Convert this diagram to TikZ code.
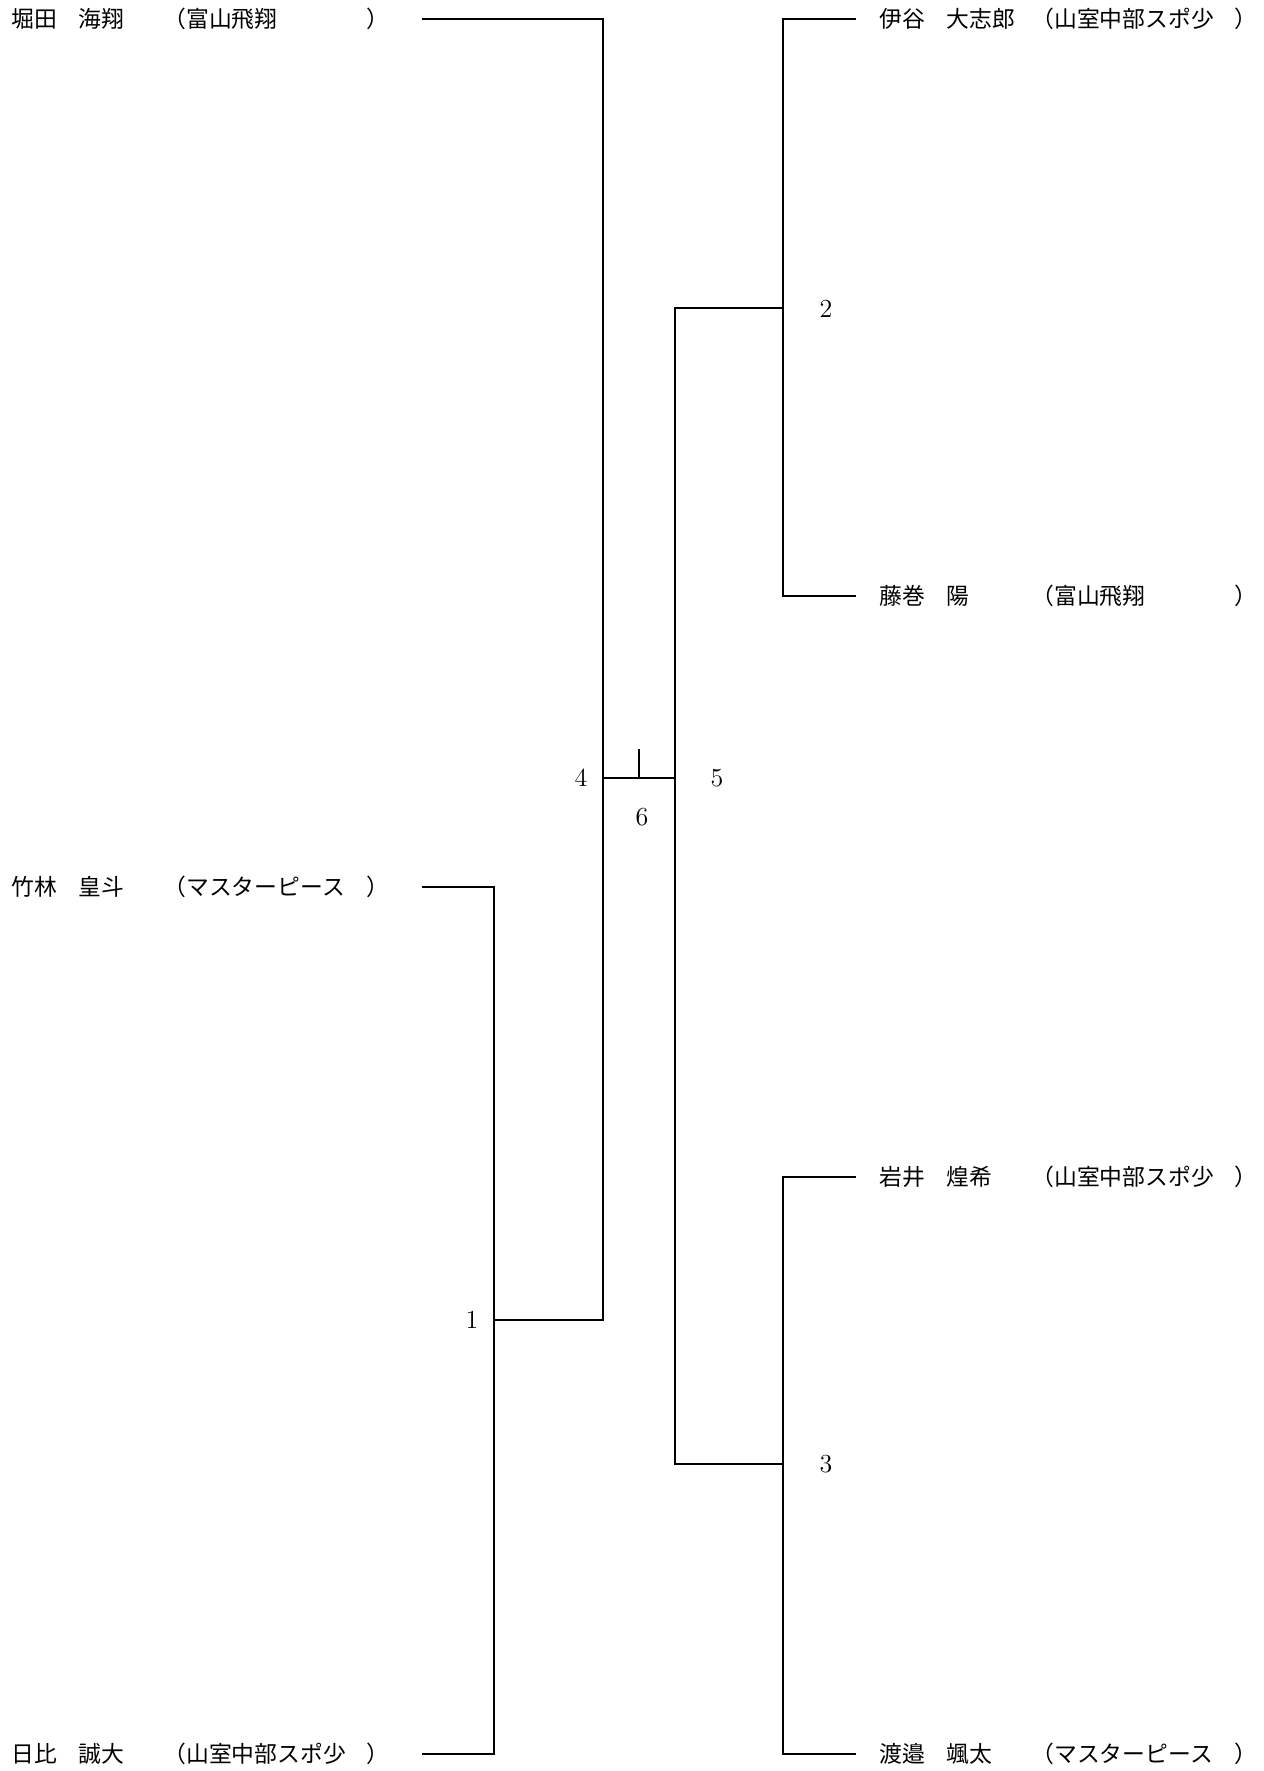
\documentclass[tikz,border=0pt]{standalone}
\usepackage{fontspec}
\newfontfamily\jpfont{Noto Sans CJK JP}
\usepackage{tikz}
\usetikzlibrary{positioning}
% surname, given name, (club)
\newcommand{\entrytext}[3]{\makebox[33.5pt][l]{#1}\makebox[42.5pt][l]{#2}\makebox[101.5pt][l]{（#3}）}

\begin{document}
\begin{tikzpicture}[x = 0.5pt, y = -0.5pt, line width = 0.55pt,
player/.style={ anchor = west, inner sep = 0pt, font = \jpfont\fontsize{11.4}{13}\selectfont },
num/.style={ inner sep = 0pt, font = \fontsize{13}{15}\selectfont }]
\useasboundingbox (0,0) rectangle (1263,1771);

%left players
\node (hotta) [player] at (11,19) {\entrytext{堀田}{海翔}{富山飛翔}};
\node (takebayashi) [player] at (11,887) {\entrytext{竹林}{皇斗}{マスターピース}};
\node (hibi) [player] at (11,1754) {\entrytext{日比}{誠大}{山室中部スポ少}};

%right players
\node (itani) [player] at (879,19) {\entrytext{伊谷}{大志郎}{山室中部スポ少}};
\node (fujimaki) [player] at (879,596) {\entrytext{藤巻}{陽}{富山飛翔}};
\node (iwai) [player] at (879,1177) {\entrytext{岩井}{煌希}{山室中部スポ少}};
\node (watanabe) [player] at (879,1754) {\entrytext{渡邉}{颯太}{マスターピース}};

%line ends
\coordinate (a1) at (422,19);
\coordinate (a3) at (422,887);
\coordinate (a6) at (422,1754);
\coordinate (b1) at (856,19);
\coordinate (b2) at (856,596);
\coordinate (b4) at (856,1177);
\coordinate (b6) at (856,1754);

%joints
\coordinate (m1) at (494,1320);
\coordinate (m2) at (783,308);
\coordinate (m3) at (783,1464);
\coordinate (m4) at (603,778);
\coordinate (m5) at (675,778);
\coordinate (m6) at (639,778);
\coordinate (t6) at (639,749);

\draw (a3) -| (m1) |- (a6);
\draw (a1) -| (m4) |- (m1);
\draw (b1) -| (m2) |- (b2);
\draw (b4) -| (m3) |- (b6);
\draw (m2) -| (m5) |- (m3);
\draw (m4) -- (m5);
\draw (m6) -- (t6);

%match numbers
\node (n1) [num] at (472,1320) {1};
\node (n2) [num] at (826,309) {2};
\node (n3) [num] at (826,1464) {3};
\node (n4) [num] at (581,778) {4};
\node (n5) [num] at (717,778) {5};
\node (n6) [num] at (642,817) {6};

\end{tikzpicture}
\end{document}
